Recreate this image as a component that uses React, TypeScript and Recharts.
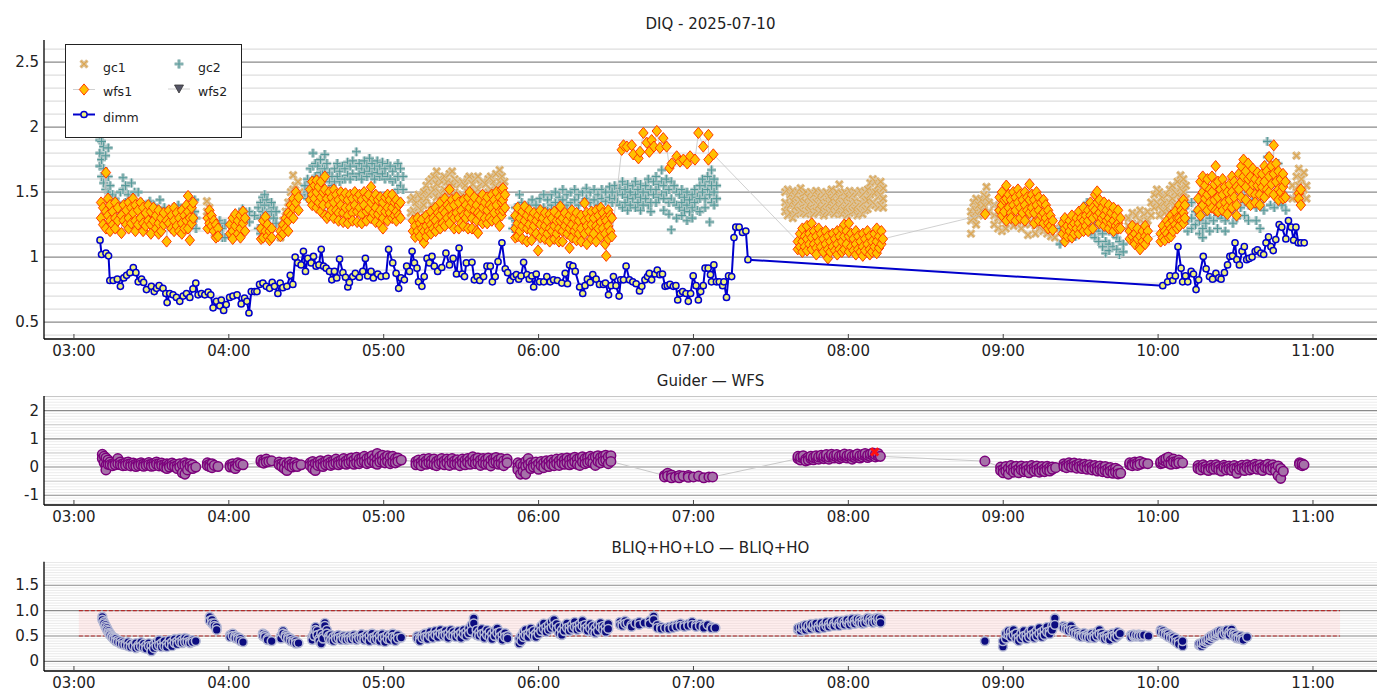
import React from 'react';
import { ComposedChart, Scatter, XAxis, YAxis, ReferenceLine, ReferenceArea } from 'recharts';

const FONT = '"DejaVu Sans", Verdana, sans-serif';

// ---------- axes ----------
const xTicks = [0, 60, 120, 180, 240, 300, 360, 420, 480]; // minutes after 03:00
const xDomain = [-11.6, 504.8];
const topYTicks = [0.5, 1, 1.5, 2, 2.5];
const midYTicks = [-1, 0, 1, 2];
const botYTicks = [0, 0.5, 1.0, 1.5];
const botYLabels = ['0', '0.5', '1.0', '1.5'];

// ---------- DIMM (minute, value) ----------
const dimmData = [
  [10.1,1.13],[10.7,1.02],[12.4,1.03],[13.4,1.01],[13.9,0.82],[15.2,0.82],[16.8,0.83],[18.0,0.775],[19.3,0.84],[20.4,0.86],
  [21.7,0.88],[23.0,0.92],[24.0,0.88],[24.9,0.81],[26.2,0.83],[27.0,0.805],[28.1,0.75],[30.0,0.775],[31.1,0.735],[32.0,0.76],
  [33.0,0.78],[34.5,0.76],[35.6,0.72],[36.1,0.65],[37.1,0.72],[38.4,0.71],[39.7,0.69],[41.0,0.66],[42.3,0.70],[43.6,0.72],
  [44.9,0.69],[46.1,0.755],[47.2,0.80],[48.1,0.71],[49.4,0.72],[50.7,0.71],[52.0,0.73],[53.0,0.71],[53.9,0.61],[55.2,0.66],
  [56.5,0.625],[57.1,0.67],[58.0,0.59],[59.0,0.635],[60.3,0.69],[61.6,0.70],[63.2,0.71],[64.8,0.64],[66.1,0.685],[67.0,0.66],
  [67.8,0.57],[68.7,0.735],[70.0,0.735],[70.9,0.735],[71.9,0.79],[73.2,0.80],[74.5,0.775],[75.8,0.76],[76.8,0.805],[77.7,0.775],
  [79.0,0.72],[79.9,0.80],[80.9,0.765],[82.5,0.775],[83.8,0.86],[84.8,0.79],[85.7,1.0],[86.7,0.955],[88.0,0.94],[88.9,1.045],
  [89.7,0.89],[90.6,0.99],[91.9,0.955],[92.8,1.005],[93.8,0.93],[94.9,0.94],[95.8,1.06],[96.7,0.93],[97.7,0.915],[99.0,0.89],
  [99.9,0.825],[100.9,0.89],[101.8,0.84],[102.9,0.985],[104.2,0.88],[105.2,0.845],[106.1,0.77],[106.7,0.805],[108.0,0.85],[109.0,0.875],
  [110.6,0.845],[111.9,0.89],[112.9,0.99],[113.8,0.855],[115.1,0.89],[116.0,0.84],[117.7,0.87],[119.0,0.85],[120.9,0.855],[121.9,1.06],
  [123.5,0.955],[124.8,0.875],[125.8,0.76],[126.7,0.84],[128.0,0.825],[128.9,0.93],[130.0,0.89],[131.0,1.045],[131.9,0.955],[132.9,0.915],
  [133.5,0.81],[134.8,0.775],[135.7,0.85],[136.8,0.99],[137.7,0.955],[138.7,1.005],[139.6,0.93],[140.9,0.89],[142.5,0.92],[144.1,1.03],
  [145.5,0.94],[146.9,0.99],[148.2,0.87],[149.2,1.07],[150.4,0.87],[151.3,0.85],[152.0,0.955],[154.2,0.96],[155.1,0.825],[156.2,0.85],
  [157.2,0.82],[158.7,0.85],[160.0,0.93],[161.3,0.93],[162.1,0.81],[163.2,0.85],[164.3,0.965],[165.8,1.11],[167.1,0.91],[168.0,0.88],
  [169.0,0.82],[170.3,0.85],[171.4,0.865],[172.3,0.83],[173.2,0.855],[174.2,0.96],[175.5,0.865],[176.4,0.83],[177.4,0.855],[178.1,0.77],
  [179.1,0.87],[180.4,0.81],[182.0,0.81],[183.2,0.85],[184.5,0.81],[185.8,0.825],[187.3,0.82],[189.0,0.80],[190.3,0.875],[191.2,0.795],
  [192.0,0.94],[193.3,0.93],[194.2,0.89],[195.9,0.77],[197.1,0.72],[198.0,0.78],[198.9,0.83],[200.0,0.805],[201.0,0.865],[202.3,0.83],
  [203.6,0.79],[205.1,0.79],[205.9,0.80],[207.1,0.71],[208.1,0.78],[209.0,0.85],[210.0,0.78],[211.2,0.70],[211.8,0.825],[212.9,0.825],
  [213.9,0.93],[215.2,0.825],[216.5,0.81],[217.8,0.795],[219.1,0.74],[220.0,0.775],[221.2,0.825],[222.2,0.85],[222.9,0.875],[223.8,0.825],
  [225.1,0.87],[226.0,0.90],[227.0,0.865],[228.0,0.87],[229.0,0.775],[229.9,0.78],[230.9,0.79],[232.2,0.775],[233.2,0.78],[233.9,0.67],
  [234.8,0.72],[235.8,0.735],[237.1,0.72],[238.0,0.66],[238.9,0.72],[239.9,0.855],[241.0,0.78],[241.9,0.67],[242.8,0.735],[243.8,0.78],
  [244.5,0.915],[245.7,0.915],[246.6,0.865],[247.0,0.81],[247.9,0.94],[248.9,0.81],[250.0,0.81],[251.3,0.78],[251.8,0.81],[252.8,0.69],
  [253.6,0.855],[254.8,0.85],[255.7,1.15],[256.4,1.23],[257.7,1.23],[259.0,1.19],[260.3,1.20],[261.1,0.98],
  [421.8,0.78],[423.7,0.81],[424.6,0.855],[425.7,0.82],[426.7,0.855],[427.7,1.08],[428.9,0.915],[429.5,0.81],[430.6,0.855],[431.5,0.81],
  [432.8,0.89],[433.7,0.87],[434.7,0.75],[435.7,0.825],[437.5,1.005],[438.6,0.91],[439.9,0.85],[441.1,0.83],[442.4,0.875],[443.5,0.84],
  [444.4,0.83],[445.7,0.88],[446.9,0.94],[447.8,1.005],[448.8,1.01],[449.8,1.11],[450.5,0.98],[451.5,0.94],[452.5,1.045],[453.4,1.08],
  [454.3,0.98],[455.3,0.99],[456.4,1.0],[457.6,1.045],[458.5,1.055],[459.8,1.03],[460.9,1.02],[461.8,1.11],[462.8,1.155],[463.7,1.08],
  [464.6,1.05],[465.6,1.135],[466.9,1.25],[467.9,1.23],[469.5,1.14],[470.5,1.28],[471.6,1.23],[472.5,1.13],[473.4,1.23],[474.3,1.11],
  [475.3,1.11],[476.6,1.11],
];

// ---------- gc1 rows: [minute, values...] ----------
const gc1Rows = [
  [51.5,1.43,1.35],[52.5,1.38,1.28],[53.5,1.30,1.22],[54.5,1.25,1.18],[55.2,1.16,1.22],
  [80,1.15,1.22],[81,1.20,1.28],[82,1.28,1.35],[83,1.35,1.42],[84,1.42,1.50],[84.9,1.63,1.52],[85.8,1.55,1.45],[86.8,1.58,1.48],[87.5,1.50],
  [130.5,1.44,1.34],[131.5,1.46,1.36],[132.5,1.42,1.33],[133.5,1.48,1.38],[134.5,1.45,1.36],[135.5,1.50,1.40],[136.5,1.55,1.45],
  [137.5,1.58,1.48],[138.5,1.60,1.50,1.40],[139.5,1.62,1.52],[140.5,1.66,1.56,1.46],[141.5,1.60,1.50],[142.5,1.58,1.48,1.40],
  [143.5,1.62,1.52],[144.5,1.58,1.48],[145.5,1.64,1.54,1.44],[146.5,1.66,1.56],[147.5,1.60,1.50,1.40],[148.5,1.58,1.48],[149.5,1.56,1.46],
  [150.5,1.58,1.48,1.40],[151.5,1.55,1.45],[152.5,1.60,1.50],[153.2,1.62,1.52,1.42],[154.5,1.56,1.46],[155.5,1.60,1.50],
  [156.5,1.62,1.52,1.42],[157.5,1.56,1.46],[158.5,1.58,1.48],[159.5,1.56,1.46,1.38],[160.5,1.60,1.50],[161.5,1.62,1.52],
  [162.5,1.58,1.48,1.40],[163.5,1.64,1.54],[164.9,1.67,1.58,1.48],[165.8,1.62,1.52],[166.8,1.58,1.48],
  [275.5,1.50,1.42,1.35],[276.5,1.52,1.40,1.32],[277.5,1.48,1.40,1.34],[278.5,1.51,1.43,1.30],[279.5,1.47,1.39,1.33],
  [280.5,1.50,1.42,1.35],[281.5,1.53,1.44,1.36],[282.5,1.49,1.41,1.34],[283.5,1.50,1.42,1.33],[284.5,1.46,1.40,1.35],
  [285.5,1.50,1.43,1.36],[286.5,1.48,1.41,1.33],[287.5,1.51,1.42,1.35],[288.5,1.47,1.40,1.34],[289.5,1.50,1.43,1.36],
  [290.5,1.48,1.40,1.32],[291.5,1.50,1.42,1.35],[292.5,1.47,1.41,1.34],[293.5,1.52,1.44,1.36],[294.5,1.48,1.40,1.33],
  [295.5,1.50,1.42,1.35],[296.5,1.56,1.46,1.38],[297.5,1.49,1.41,1.33],[298.5,1.50,1.43,1.36],[299.5,1.47,1.40,1.32],
  [300.5,1.51,1.42,1.34],[301.5,1.48,1.41,1.35],[302.5,1.50,1.43,1.36],[303.5,1.49,1.40,1.32],[304.5,1.51,1.42,1.35],
  [305.5,1.48,1.41,1.33],[306.5,1.50,1.43,1.36],[307.5,1.52,1.44,1.37],[308.5,1.57,1.48,1.40],[309.5,1.60,1.50,1.42],
  [310.5,1.58,1.50,1.40],[311.5,1.55,1.46,1.38],[312.5,1.58,1.48,1.40],[313.5,1.53,1.45,1.38],
  [347.5,1.18,1.28,1.35],[348.5,1.30,1.38,1.42],[349.5,1.25,1.35,1.45],[350.5,1.32,1.40],[351.5,1.36,1.44],[352.5,1.40,1.48],
  [353.5,1.54,1.46],[354.5,1.42,1.35],
  [356.5,1.40,1.32,1.25],[358,1.38,1.30,1.22],[359.5,1.36,1.28,1.20],[361,1.38,1.30,1.22],[362.5,1.36,1.28],[364,1.38,1.30,1.24],
  [365.5,1.35,1.27],[367,1.36,1.28,1.22],[368.5,1.33,1.25],[369.6,1.30,1.17],[371,1.34,1.26],[372.5,1.32,1.24,1.18],[374,1.30,1.22],
  [375.5,1.28,1.20],[377,1.26,1.18],[378.5,1.25,1.16],[380,1.22,1.15],
  [408.5,1.30,1.24],[410,1.34,1.26],[411.5,1.32,1.25],[413,1.36,1.28],[414.5,1.33,1.26],[416,1.35,1.28],[417.3,1.42,1.32],
  [418.5,1.48,1.38],[419.5,1.52,1.42],[420.5,1.50,1.40,1.32],[421.5,1.46,1.36],[422.5,1.42,1.34],[423.5,1.48,1.38],
  [424.5,1.52,1.42,1.34],[425.5,1.55,1.45],[426.5,1.50,1.40],[427.5,1.58,1.48,1.38],[428.7,1.63,1.53,1.43],[429.8,1.60,1.50,1.38],
  [430.8,1.55,1.45],
  [472,1.45,1.55],[473.6,1.78,1.62,1.50],[474.5,1.68,1.55,1.45],[475.5,1.60,1.50,1.42],[476.5,1.65,1.52],[477.5,1.55,1.45],
];

// ---------- gc2 rows ----------
const gc2Rows = [
  [10,1.90,1.80,1.70],[10.7,1.89,1.75,1.62],[11.5,1.85,1.68,1.57],[12.3,1.78,1.62,1.52],[13.3,1.84,1.62,1.50],[14,1.55,1.45,1.2],
  [15,1.48,1.38],[16,1.45,1.35],[17,1.42,1.32],[18,1.5,1.38],[19,1.61,1.52,1.40],[20,1.55,1.42],[21,1.48,1.38],[22.3,1.57,1.45],
  [23.5,1.50,1.40],[24.9,1.50,1.40],[26,1.42,1.35],[27.5,1.40,1.32],[29.4,1.43,1.33],[31,1.40,1.30],[33.3,1.44,1.34],[35,1.38,1.30],
  [37,1.36,1.28],[38.5,1.38,1.30],[40.4,1.40,1.32],[42,1.36,1.28],[44,1.34,1.27],[45.5,1.40,1.3],[46.8,1.44,1.35],[47.3,1.30,1.22],
  [55.5,1.25,1.18],[56.5,1.28,1.2],[57.5,1.22,1.15],[58.5,1.26,1.15],[63,1.3,1.22],[64.3,1.34,1.25],[65.3,1.37,1.28],[66.5,1.3],
  [68,1.35,1.27],[70,1.32],
  [71.4,1.22,1.38],[72.3,1.30,1.42,1.18],[73.1,1.46,1.35],[73.9,1.48,1.40,1.28],[74.8,1.44,1.34],[75.6,1.40,1.30],[76.5,1.42,1.35],
  [77.4,1.38,1.30],[78.3,1.35,1.26],
  [89.5,1.48,1.55],[90.5,1.6,1.5,1.45],[91.5,1.68,1.58],[92.6,1.80,1.70,1.6],[93.5,1.72,1.62],[94.5,1.70,1.6],[95.5,1.75,1.65],
  [96.3,1.68,1.58],[97.2,1.79,1.68],[98,1.72,1.62],[99,1.65,1.58],[100,1.62,1.55],[101,1.68,1.58],[102,1.72,1.62],[103,1.66,1.58],
  [104,1.70,1.60],[105,1.68,1.60],[106,1.73,1.63],[107,1.70,1.60],[108,1.74,1.64],[109.4,1.81,1.70,1.62],[110.5,1.72,1.64],
  [111.5,1.68,1.60],[112.5,1.74,1.65],[113.5,1.70,1.62],[114.5,1.76,1.66],[115.5,1.72,1.64],[116.5,1.68,1.60],[117.5,1.74,1.65],
  [118.5,1.70,1.62],[119.5,1.73,1.64],[120.5,1.68,1.60],[121.5,1.72,1.62],[122.5,1.70,1.60],[123.5,1.66,1.58],[124.5,1.70,1.60],
  [125.5,1.72,1.62,1.52],[126.5,1.68,1.55],[127.5,1.62,1.52],
  [170,1.30,1.22],[171,1.38,1.28],[172.6,1.48,1.36],[173.5,1.42,1.32],[174.6,1.35,1.13],[176,1.40,1.30],[177.5,1.44,1.34],
  [179,1.40,1.32],[180.5,1.45,1.35],[182,1.48,1.38],[183.5,1.44,1.36],[185,1.48,1.40],[186.5,1.50,1.42],[188,1.46,1.38],
  [189.4,1.52,1.44],[191,1.48,1.40],[192.5,1.50,1.42],[194,1.52,1.44],[195.5,1.48,1.40],[197,1.50,1.42],[198.5,1.53,1.45],
  [200,1.50,1.42],[201.5,1.52,1.44],[203,1.48,1.40],[204.5,1.52,1.45],[206,1.50,1.43],[207.5,1.54,1.46],[208.5,1.50,1.42],
  [209.5,1.55,1.45],[210.5,1.50,1.42],[211.5,1.53,1.40],[212.5,1.58,1.48,1.38],[213.5,1.52,1.42],[214.5,1.56,1.46,1.36],
  [215.5,1.50,1.40],[216.5,1.55,1.45],[217.5,1.58,1.48,1.38],[218.5,1.52,1.42],[219.5,1.56,1.46,1.36],[220.5,1.50,1.40],
  [221.5,1.55,1.45],[222.5,1.60,1.50,1.40],[223.5,1.52,1.42,1.35],[224.5,1.58,1.48],[225.5,1.62,1.52,1.42],[226.5,1.56,1.46],
  [227.7,1.67,1.58,1.48],[228.5,1.55,1.45,1.36],[229.5,1.60,1.50],[230.5,1.52,1.42,1.33],[231.4,1.58,1.45,1.21],[232.5,1.55,1.42],
  [233.5,1.50,1.40,1.30],[234.5,1.48,1.38],[235.5,1.52,1.42,1.32],[236.5,1.46,1.36],[237.5,1.50,1.40,1.28],[238.5,1.44,1.35],
  [239.5,1.48,1.38,1.30],[240.5,1.52,1.42],[241.5,1.46,1.36],[242.5,1.55,1.45,1.35],[243.5,1.60,1.50],[244.5,1.55,1.45,1.38],
  [245.5,1.62,1.52],[246.3,1.58,1.48,1.27],[247,1.67,1.55,1.42],[248,1.60,1.50,1.40],[249,1.55,1.45],
  [382,1.22,1.10],[383.5,1.28,1.18],[385,1.25,1.15],[386.5,1.30,1.20],[388,1.26,1.16],[389.5,1.32,1.22],[391,1.38,1.28],
  [392.5,1.42,1.32,1.22],[394,1.38,1.28,1.18],[395.5,1.35,1.25,1.15],[397,1.30,1.20,1.12],[398.5,1.28,1.18,1.08],
  [399.7,1.22,1.12,1.03],[401,1.20,1.10,1.05],[402.5,1.18,1.08],[404,1.15,1.06],[405,1.12,1.02],[406.5,1.10,1.04],
  [431.5,1.40,1.28,1.20],[433,1.42,1.30,1.22],[434.5,1.35,1.25],[436,1.38,1.28,1.18],[437.3,1.32,1.22,1.15],[438.5,1.36,1.26],
  [440,1.40,1.30,1.20],[441.5,1.38,1.28],[443,1.42,1.32,1.22],[444.5,1.40,1.30],[446,1.38,1.28,1.20],[447.5,1.44,1.34],
  [449,1.46,1.36,1.26],[450.5,1.50,1.40,1.30],[452,1.48,1.38],[453.5,1.52,1.42,1.32],[455,1.50,1.40,1.28],[456.5,1.54,1.44],
  [458,1.48,1.38,1.28],[459.5,1.52,1.42,1.22],[461,1.56,1.46,1.36],[462.3,1.89,1.77,1.60],[463.5,1.65,1.50,1.40],
  [465,1.60,1.48,1.38],[466.5,1.72,1.55,1.42],[468,1.62,1.50,1.40],[469.5,1.58,1.46,1.36],
];

// ---------- wfs1 rows ----------
const wfs1Rows = [
  [10.5,1.42,1.30],[11.3,1.38,1.25],[12.4,1.65,1.35,1.22],[13.2,1.45,1.32],[14,1.40,1.28,1.20],[15,1.35,1.25],[16,1.42,1.30,1.22],
  [17,1.38,1.28],[18.4,1.32,1.185],[19.3,1.40,1.28],[20.3,1.36,1.25],[21.2,1.42,1.30,1.22],[22.2,1.38,1.26],[22.9,1.45,1.34],
  [23.8,1.40,1.28,1.20],[24.8,1.36,1.25],[25.8,1.42,1.30],[26.8,1.38,1.26,1.20],[27.8,1.34,1.24],[28.8,1.40,1.28],
  [29.8,1.35,1.25,1.18],[30.8,1.38,1.28],[31.8,1.32,1.22],[32.8,1.36,1.26,1.18],[33.8,1.30,1.20],[34.8,1.34,1.25],[35.9,1.28,1.12],
  [36.8,1.36,1.26],[37.8,1.32,1.22],[38.8,1.38,1.28,1.20],[39.8,1.34,1.24],[40.8,1.30,1.20],[41.8,1.36,1.26,1.18],[42.8,1.32,1.22],
  [43.6,1.40,1.28],[44.2,1.47,1.35,1.22],[44.9,1.30,1.13],[45.6,1.38,1.26],[46.2,1.42,1.30],
  [51.8,1.30,1.22],[52.5,1.36,1.26],[53.3,1.32,1.24],[54.2,1.28,1.20],[55,1.25,1.15],[55.8,1.22,1.16],
  [60.5,1.25,1.18],[61.5,1.30,1.20,1.14],[62.5,1.33,1.24],[63.5,1.28,1.18],[64.5,1.32,1.22,1.15],[65.5,1.35,1.26],[66.3,1.30,1.20],
  [72.5,1.22,1.14],[73.3,1.28,1.15],[74.2,1.31,1.20],[75,1.25,1.16],[75.8,1.20,1.13],[76.6,1.22,1.15],
  [80,1.16,1.20],[81,1.18,1.25],[82,1.22,1.30],[83,1.28,1.34,1.20],[84,1.32,1.40],[85,1.38,1.45,1.30],[86,1.42,1.50],[87,1.36,1.46],
  [91.5,1.52,1.44],[92.3,1.58,1.48,1.40],[93.2,1.55,1.45],[94,1.59,1.50,1.38],[94.8,1.54,1.42],[95.7,1.58,1.46,1.35],[96.5,1.50,1.40],
  [97.2,1.62,1.52,1.32],[98,1.45,1.30],[98.9,1.50,1.40,1.32],[99.8,1.46,1.36],[100.7,1.52,1.42,1.30],[101.6,1.48,1.36],
  [102.5,1.44,1.34,1.28],[103.4,1.50,1.40],[104.3,1.46,1.34,1.27],[105.2,1.49,1.38],[106.1,1.44,1.32,1.26],[107,1.48,1.38],
  [107.9,1.45,1.34,1.28],[108.8,1.50,1.40],[109.7,1.46,1.35,1.27],[110.6,1.48,1.38],[111.5,1.44,1.33,1.26],[112.4,1.50,1.40],
  [113.3,1.46,1.35,1.28],[114.2,1.48,1.37],[115.1,1.54,1.42,1.30],[116,1.45,1.34],[116.9,1.48,1.38,1.27],[117.8,1.44,1.33],
  [118.7,1.46,1.36,1.25],[119.7,1.42,1.30,1.22],[120.6,1.46,1.35],[121.5,1.48,1.38,1.28],[122.4,1.44,1.34],[123.3,1.48,1.38,1.30],
  [124.2,1.42,1.32],[124.9,1.44,1.35,1.28],[125.8,1.40,1.32],[126.5,1.42,1.30],
  [131.3,1.28,1.20],[132.2,1.24,1.155],[133.1,1.30,1.20],[134,1.26,1.16],[134.8,1.29,1.22],[135.6,1.20,1.11],[136.5,1.32,1.24,1.16],
  [137.4,1.28,1.20],[138.3,1.35,1.25,1.18],[139.2,1.30,1.22],[140.1,1.38,1.28,1.20],[141,1.34,1.24],[141.9,1.42,1.32,1.22],
  [142.8,1.36,1.26],[143.7,1.45,1.34,1.24],[144.6,1.40,1.30],[145.5,1.52,1.38,1.26],[146.4,1.44,1.32],[147.3,1.40,1.30,1.22],
  [148.2,1.46,1.34],[149.1,1.42,1.30,1.22],[150,1.36,1.26],[150.9,1.44,1.32,1.24],[151.8,1.40,1.30],[152.7,1.46,1.34,1.22],
  [153.3,1.50,1.38],[154.2,1.42,1.30,1.22],[155.1,1.46,1.36],[156,1.40,1.28,1.20],[156.5,1.34,1.185],[157.4,1.44,1.32],
  [158.3,1.48,1.38,1.26],[159.2,1.42,1.30],[160.1,1.46,1.36,1.26],[161,1.40,1.30],[161.9,1.48,1.38,1.28],[162.8,1.44,1.34],
  [163.7,1.50,1.40,1.28],[164.9,1.46,1.35,1.24],[165.7,1.52,1.42,1.32],[166.2,1.53,1.44,1.36],[167,1.48,1.38],
  [171,1.32,1.22,1.15],[171.9,1.38,1.26,1.16],[172.8,1.30,1.20],[173.7,1.35,1.24,1.14],[174.6,1.39,1.28],[175.5,1.32,1.22,1.12],
  [176.4,1.36,1.25],[177.3,1.30,1.20,1.13],[178.2,1.34,1.24],[179.1,1.28,1.18],[179.8,1.32,1.05],[180.7,1.36,1.25,1.15],
  [181.6,1.30,1.20],[182.5,1.34,1.24,1.14],[183.4,1.28,1.18],[184.3,1.33,1.22,1.12],[185.2,1.30,1.20],[186.1,1.35,1.24,1.14],
  [187,1.28,1.18],[187.9,1.32,1.22,1.12],[188.4,1.39,1.28],[189.3,1.30,1.20,1.12],[190.2,1.34,1.24],[191.1,1.28,1.18],
  [192,1.32,1.22,1.07],[192.9,1.36,1.25,1.15],[193.8,1.30,1.20],[194.7,1.34,1.23,1.13],[195.6,1.28,1.18],[196.5,1.32,1.22,1.12],
  [197.8,1.415,1.28,1.18],[198.7,1.34,1.24,1.10],[199.6,1.30,1.20],[200.5,1.35,1.25,1.14],[201.4,1.30,1.18],[202.3,1.36,1.24,1.12],
  [203.2,1.32,1.22],[204.1,1.38,1.27,1.16],[204.9,1.34,1.22],[205.8,1.30,1.18,1.10],[206.2,1.28,1.01],[207,1.36,1.24,1.14],
  [207.8,1.32,1.20],[208.4,1.30,1.16],
  [212.2,1.825],[212.9,1.86],[214.2,1.85],[216.1,1.86],[216.7,1.79],[218.7,1.76],[219.3,1.81],[220.6,1.955],[221.9,1.88],[222.9,1.81],
  [223.8,1.90],[224.7,1.85],[225.8,1.97],[227,1.84],[228.3,1.915],[229.6,1.85],[230.7,1.685],[231.6,1.72],[233.5,1.775],[234.8,1.735],
  [236.1,1.75],[237.6,1.72],[238.7,1.775],[240.6,1.75],[241.9,1.955],[243.8,1.85],[245.8,1.94,1.75],[247.7,1.79],
  [280.4,1.12,1.06],[281.3,1.18,1.08],[282.2,1.22,1.12,1.04],[283.1,1.16,1.08],[284,1.24,1.14,1.05],[284.9,1.18,1.10],
  [285.8,1.26,1.15,1.06],[286.7,1.20,1.10],[287.6,1.16,1.07,1.02],[288.5,1.22,1.12],[289.4,1.18,1.08],[290.3,1.14,1.04],
  [291.2,1.20,1.10],[292.1,1.16,1.06,0.99],[293,1.12,1.04],[293.9,1.18,1.08],[294.8,1.14,1.05],[295.7,1.20,1.10,1.02],
  [296.6,1.16,1.06],[297.5,1.22,1.12,1.04],[298.4,1.25,1.16,1.06],[299.3,1.20,1.10],[300.2,1.26,1.16,1.04],[301.1,1.18,1.08],
  [302,1.14,1.05],[302.9,1.20,1.10,1.02],[303.8,1.16,1.06],[304.7,1.12,1.04],[305.6,1.18,1.08,1.01],[306.5,1.14,1.05],
  [307.4,1.20,1.10],[308.3,1.16,1.06,1.02],[309.2,1.12,1.04],[310.1,1.18,1.08],[311,1.22,1.12,1.03],[311.9,1.16,1.07],
  [312.8,1.20,1.10],[313.4,1.14],
  [353,1.33],
  [358.6,1.46,1.36],[359.5,1.50,1.40,1.32],[360.4,1.44,1.35],[361.2,1.55,1.45,1.28],[362.1,1.48,1.38],[363,1.44,1.34,1.30],
  [363.9,1.50,1.40],[364.8,1.46,1.36,1.28],[365.7,1.52,1.42],[366.6,1.48,1.38,1.30],[367.5,1.44,1.34],[368.4,1.50,1.40,1.28],
  [369.3,1.46,1.36],[370.2,1.56,1.44,1.34],[371.1,1.48,1.38],[372,1.44,1.34,1.26],[372.9,1.50,1.40],[373.8,1.46,1.36,1.28],
  [374.7,1.42,1.32],[375.6,1.44,1.34,1.26],[376.5,1.40,1.30],[377.4,1.36,1.26,1.22],[378.3,1.32,1.24],[379.2,1.28,1.21],
  [383,1.26,1.18],[383.9,1.30,1.22,1.12],[384.8,1.24,1.16],[385.7,1.28,1.20],[386.6,1.32,1.24,1.15],[387.5,1.26,1.18],
  [388.4,1.30,1.22],[389.3,1.35,1.26,1.18],[390.2,1.30,1.22],[391.1,1.38,1.28,1.20],[392,1.32,1.24],[392.9,1.36,1.28,1.20],
  [393.8,1.42,1.32],[394.7,1.38,1.30,1.22],[395.6,1.48,1.36],[396.4,1.505,1.42,1.32],[397.3,1.44,1.34,1.26],[398.2,1.38,1.30],
  [399.1,1.42,1.32,1.24],[400,1.36,1.28],[400.9,1.40,1.30,1.22],[401.8,1.34,1.26],[402.7,1.38,1.28,1.20],[403.6,1.32,1.24],
  [404.5,1.36,1.26,1.22],[405.4,1.30,1.22],
  [409,1.20,1.14],[410,1.24,1.16],[411,1.18,1.12,1.10],[412,1.22,1.14],[413,1.16,1.08,1.06],[414,1.20,1.12],[415,1.24,1.16,1.10],[416,1.20,1.14],
  [421,1.18,1.12],[421.8,1.24,1.15],[422.6,1.20,1.13],[423.4,1.28,1.18],[424.2,1.25,1.15],[425,1.32,1.22,1.16],[425.8,1.28,1.20],
  [426.6,1.35,1.25],[427.4,1.30,1.22],[428.2,1.40,1.30,1.24],[429,1.36,1.28],[429.8,1.44,1.34,1.26],[430.4,1.40,1.30],
  [435.5,1.45,1.36],[436.4,1.58,1.32],[437.3,1.62,1.50,1.40],[438.2,1.55,1.45],[439.1,1.60,1.48,1.36],[440,1.52,1.42],
  [440.9,1.62,1.50,1.38],[441.8,1.56,1.44],[442.3,1.70,1.36],[443.2,1.58,1.46,1.35],[444.1,1.52,1.40],[445,1.60,1.48,1.36],
  [445.9,1.54,1.42],[446.8,1.50,1.38,1.33],[447.7,1.56,1.44],[448.6,1.62,1.50,1.38],[449.5,1.58,1.46],[450.4,1.54,1.40,1.32],
  [451.3,1.64,1.52],[452.2,1.70,1.58,1.46],[453.1,1.75,1.62],[454,1.66,1.54,1.44],[454.9,1.72,1.60],[455.8,1.62,1.50,1.40],
  [456.7,1.68,1.56],[457.6,1.60,1.48,1.42],[458.5,1.65,1.55],[459.4,1.58,1.48,1.40],[460.3,1.64,1.54],[461.2,1.70,1.58,1.46],
  [462.1,1.66,1.52],[463,1.77,1.62,1.50],[463.9,1.70,1.56],[464.8,1.86,1.64,1.48],[465.7,1.72,1.58],[466.6,1.66,1.52,1.44],
  [467.5,1.60,1.50],[468.4,1.64,1.54,1.45],[469.3,1.58,1.46],
  [474.5,1.49,1.45],[475.3,1.52,1.40],
];
const wfs2Rows: number[][] = [];

// ---------- Guider - WFS rows ----------
const guiderRows = [
  [11,0.45,0.30],[11.7,0.38,0.15],[12.4,0.32,0.05,-0.1],[13.2,0.25,0.10],[14,0.18,0.08],[15,0.12,0.05],[16,0.15,0.08],[17,0.30,0.12],
  [18,0.18,0.08],[19,0.12,0.05],[20,0.15,0.06],[21,0.18,0.10],[22,0.12,0.04],[23,0.14,0.06],[24,0.10,0.02],[25,0.12,0.05],
  [26,0.15,0.08],[27,0.10,0.03],[28,0.12,0.06],[29,0.16,0.08],[30,0.10,0.03],[31,0.13,0.05],[32,0.18,0.10],[33,0.12,0.04],
  [34,0.14,0.06],[35,0.08,0.0],[36,0.12,0.02,-0.05],[37,0.10,0.0],[38,0.14,0.05],[39,0.10,0.02],[40,0.05,-0.05],[41,0.12,0.0],
  [42,0.08,-0.2],[43,0.15,0.05,-0.25],[44,0.10,-0.1],[45,0.12,0.02],[46,0.08,-0.05],[47.2,0.0],
  [51.7,0.15,0.05],[52.6,0.10,0.02],[53.5,0.12,-0.02],[54.4,0.06],[55.8,0.02],
  [60.5,0.08,0.0],[61.5,0.12,0.02],[62.5,0.05,-0.05],[63.5,0.15,0.05],[64.5,0.12],[65.5,0.08],
  [72.5,0.18,0.25],[73.5,0.22,0.14],[74.5,0.28,0.18],[75.5,0.20],[76.6,0.22],
  [79.5,0.18,0.08],[80.5,0.12,0.02],[81.5,0.15,-0.05],[82.5,0.10,-0.12],[83.5,0.18,0.05],[84.5,0.12,0.0],[85.5,0.15,0.04],[86.5,0.10,0.02],[88,0.08],
  [91.5,0.15,0.05],[92.5,0.20,0.08,-0.05],[93.5,0.12,-0.12],[94.5,0.18,0.06],[95.5,0.22,0.10],[96.5,0.15,0.02],[97.5,0.20,0.08],
  [98.5,0.25,0.12],[99.5,0.18,0.06],[100.5,0.22,0.10],[101.5,0.28,0.14],[102.5,0.20,0.08],[103.5,0.25,0.12],[104.5,0.30,0.15],
  [105.5,0.22,0.10],[106.5,0.28,0.14],[107.5,0.32,0.18],[108.5,0.25,0.10],[109.5,0.35,0.15],[110.5,0.28,0.12],[111.5,0.32,0.18],
  [112.5,0.38,0.20],[113.5,0.30,0.12],[114.5,0.34,0.16],[115.5,0.40,0.22],[116.5,0.32,0.14],[117.5,0.48,0.25,0.10],[118.5,0.36,0.18],
  [119.5,0.42,0.22],[120.5,0.34,0.15],[121.5,0.40,0.20],[122.5,0.35,0.12],[123.5,0.38,0.18],[124.5,0.30,0.15],[125.5,0.32,0.20],[126.8,0.25],
  [132.5,0.20,0.08],[133.5,0.25,0.12],[134.5,0.18,0.05],[135.5,0.28,0.14],[136.5,0.22,0.10],[137.5,0.30,0.15],[138.5,0.24,0.12],
  [139.5,0.28,0.08],[140.5,0.20,0.05],[141.5,0.26,0.12],[142.5,0.30,0.15],[143.5,0.22,0.08],[144.5,0.28,0.14],[145.5,0.24,0.06],
  [146.5,0.30,0.15],[147.5,0.22,0.10],[148.5,0.26,0.12],[149.5,0.20,0.05],[150.5,0.28,0.14],[151.5,0.24,0.08],[152.5,0.30,0.16],
  [153.5,0.25,0.10],[154.5,0.36,0.18],[155.5,0.28,0.12],[156.5,0.32,0.15],[157.5,0.25,0.06],[158.5,0.30,0.14],[159.5,0.26,0.10],
  [160.5,0.32,0.12],[161.5,0.24,0.04],[162.5,0.30,0.15],[163.5,0.34,0.18],[164.5,0.26,0.10],[165.5,0.30,0.12],[166.5,0.22,0.05],[167.8,0.28,0.15],
  [172,0.15,0.0,-0.10],[173,0.10,-0.25],[174,0.05,-0.15],[175,0.20,0.02,-0.25],[176,0.30,0.08],[177,0.15,-0.05],[178,0.10,0.0],
  [179,0.18,0.04],[180,0.12,-0.08],[181,0.20,0.05],[182,0.15,-0.02],[183,0.22,0.08],[184,0.18,0.02],[185,0.25,0.10],[186,0.20,0.05],
  [187,0.28,0.12],[188,0.22,0.06],[189,0.30,0.14],[190,0.25,0.10],[191,0.32,0.15],[192,0.26,0.08],[193,0.30,0.12],[194,0.35,0.18],
  [195,0.28,0.10],[196,0.32,0.06],[197,0.36,0.18],[198,0.30,0.12],[199,0.34,0.16],[200,0.38,0.20],[201,0.32,0.14],[202,0.36,0.06],
  [203,0.40,0.20],[204,0.34,0.15],[205,0.38,0.22],[206,0.42,0.25],[207,0.36,0.12],[208,0.40,0.20],
  [228.8,-0.30,-0.35],[230,-0.22,-0.32],[231.5,-0.28,-0.38],[233,-0.35],[234.5,-0.30,-0.38],[236,-0.32],[238,-0.30,-0.36],
  [240,-0.35],[242,-0.32],[244,-0.38],[246,-0.35],[247.4,-0.35],
  [280.5,0.30,0.38],[281.5,0.25,0.35],[282.5,0.32,0.40],[283.5,0.28,0.22],[284.5,0.35,0.25],[285.5,0.30,0.38],[286.5,0.26,0.34],
  [287.5,0.32,0.40],[288.5,0.28,0.36],[289.5,0.35,0.42],[290.5,0.30,0.38],[291.5,0.34,0.44],[292.5,0.28,0.36],[293.5,0.38,0.45],
  [294.5,0.32,0.40],[295.5,0.36,0.44],[296.5,0.30,0.38],[297.5,0.34,0.42],[298.5,0.38,0.46],[299.5,0.32,0.40],[300.5,0.36,0.44],
  [301.5,0.28,0.38],[302.5,0.34,0.42],[303.5,0.38,0.46],[304.5,0.32,0.40],[305.5,0.36,0.44],[306.5,0.40,0.48],[307.5,0.34,0.42],
  [308.5,0.38,0.46],[309.5,0.42,0.50],[310.5,0.36,0.44],[311.5,0.40,0.48],[312.4,0.38],
  [352.9,0.21],
  [359,0.0,-0.12],[360,-0.08,-0.2],[361,0.02,-0.15],[362,-0.05,-0.25],[363,0.05,-0.1],[364,-0.02,-0.18],[365,0.03,-0.12],
  [366,-0.06,-0.2],[367,0.04,-0.1],[368,-0.04,-0.16],[369,0.02,-0.12],[370,-0.06,-0.2],[371,0.05,-0.08],[372,-0.02,-0.15],
  [373,0.04,-0.1],[374,-0.04,-0.18],[375,0.02,-0.12],[376,-0.05,-0.16],[377,0.03,-0.1],[378,-0.02,-0.14],[379,0.0,-0.08],[380.3,-0.02],
  [383.5,0.12,0.02],[384.5,0.08,-0.02],[385.5,0.15,0.05],[386.5,0.10,0.0],[387.5,0.14,0.04],[388.5,0.08,-0.04],[389.5,0.12,0.02],
  [390.5,0.06,-0.05],[391.5,0.10,0.0],[392.5,0.05,-0.08],[393.5,0.08,-0.04],[394.5,0.02,-0.10],[395.5,0.05,-0.06],[396.5,0.0,-0.14],
  [397.5,0.04,-0.10],[398.5,-0.02,-0.16],[399.5,0.02,-0.12],[400.5,-0.06,-0.20],[401.5,-0.02,-0.14],[402.5,-0.08,-0.22],
  [403.5,-0.04,-0.18],[404.5,-0.10,-0.24],[405.5,-0.22],
  [409,0.08,0.15],[410,0.12,0.05],[411,0.18,0.10],[412,0.15,0.06],[413,0.20,0.10],[414.5,0.14],[416,0.12],
  [421,0.12,0.18],[422,0.15,0.25],[423,0.20,0.30],[424,0.14,0.35],[425,0.22,0.10],[426,0.28,0.18],[427,0.20,0.12],[428,0.25,0.15],[429.5,0.15],
  [435.5,0.05,-0.05],[436.5,0.0,-0.10],[437.5,0.08,-0.02],[438.5,0.02,-0.08],[439.5,-0.04,-0.12],[440.5,0.06,-0.04],[441.5,0.0,-0.08],
  [442.5,0.08,-0.02],[443.5,0.02,-0.10],[444.5,-0.04,-0.14],[445.5,0.06,-0.02],[446.5,0.0,-0.10],[447.5,0.04,-0.06],[448.5,-0.02,-0.12],
  [449.5,0.05,-0.05],[450.5,-0.04,-0.22],[451.5,0.02,-0.08],[452.5,0.06,-0.04],[453.5,0.0,-0.12],[454.5,0.08,-0.02],[455.5,0.02,-0.10],
  [456.5,0.05,-0.06],[457.5,0.10,0.0],[458.5,0.04,-0.08],[459.5,0.08,-0.04],[460.5,0.0,-0.12],[461.5,0.06,-0.02],[462.5,0.10,-0.06],
  [463.5,0.02,-0.10],[464.5,0.08,-0.04],[465.5,0.0,-0.14],[466.5,0.04,-0.30],[467.5,-0.05,-0.40],[468.5,-0.15],
  [474.8,0.15,0.10],[475.8,0.05,0.12],[476.5,0.08],
];
const guiderFlag = [[310.2, 0.54]];

// ---------- BLIQ+HO+LO - BLIQ+HO rows ----------
const bliqRows = [
  [11,0.88,0.82],[11.6,0.78,0.75],[12.2,0.72,0.68],[12.8,0.66,0.62],[13.4,0.60,0.56],[14,0.55,0.52],[14.7,0.50,0.48],[15.4,0.47,0.44],
  [16.2,0.45,0.40],[17,0.42,0.38],[18,0.40,0.35],[19,0.38,0.33],[20,0.36,0.32],[21,0.38,0.30],[22,0.35,0.28],[23,0.33,0.30],
  [24,0.36,0.26],[25,0.32,0.28],[26,0.38,0.30],[27,0.35,0.27],[28,0.32,0.25],[29,0.36,0.30],[30,0.30,0.20],[31,0.34,0.26],
  [32,0.38,0.30],[33,0.42,0.32],[34,0.36,0.28],[35,0.40,0.30],[36,0.35,0.28],[37,0.42,0.34],[38,0.38,0.30],[39,0.44,0.36],
  [40,0.40,0.34],[41,0.45,0.38],[42,0.42,0.36],[43,0.46,0.38],[44,0.44,0.38],[45,0.40,0.36],[46,0.42,0.38],[47.2,0.40],
  [52.6,0.88,0.80],[53.5,0.82,0.75],[54.4,0.75,0.70],[55.3,0.68,0.62],
  [60.5,0.52,0.48],[61.5,0.55,0.50],[62.5,0.50,0.46],[63.5,0.48,0.44],[64.5,0.45,0.40],[65.5,0.38],
  [73.2,0.55,0.50],[74,0.52,0.48],[75,0.45,0.42],[76.6,0.40],
  [80.2,0.50,0.45],[81,0.60,0.55],[82,0.52,0.48],[83,0.48,0.44],[84,0.45,0.40],[85,0.42,0.38],[86,0.40,0.35],[87,0.36],
  [92.3,0.48,0.42],[93,0.55,0.50],[93.6,0.68,0.62],[94.3,0.60,0.52],[95,0.45,0.40],[95.8,0.55,0.35],[96.5,0.50,0.45],[97.2,0.76,0.70],
  [98,0.62,0.55],[98.8,0.50,0.45],[99.6,0.52,0.42],[100.5,0.48,0.40],[101.5,0.50,0.44],[102.5,0.52,0.46],[103.5,0.48,0.42],
  [104.5,0.50,0.45],[105.5,0.46,0.42],[106.5,0.50,0.44],[107.5,0.48,0.43],[108.5,0.52,0.46],[109.5,0.48,0.42],[110.5,0.50,0.45],
  [111.5,0.54,0.46],[112.5,0.48,0.42],[113.5,0.52,0.45],[114.5,0.50,0.40],[115.5,0.55,0.46],[116.5,0.48,0.42],[117.5,0.52,0.44],
  [118.5,0.50,0.40],[119.5,0.54,0.46],[120.5,0.48,0.38],[121.5,0.52,0.44],[122.5,0.50,0.42],[123.5,0.55,0.48],[124.5,0.48,0.40],
  [125.5,0.52,0.45],[126.8,0.47],
  [133,0.50,0.45],[134,0.45,0.40],[135,0.52,0.46],[136,0.55,0.48],[137,0.50,0.44],[138,0.58,0.50],[139,0.52,0.46],[140,0.60,0.52],
  [141,0.55,0.48],[142,0.62,0.54],[143,0.56,0.50],[144,0.60,0.52],[145,0.55,0.46],[146,0.62,0.52],[147,0.58,0.50],[148,0.54,0.48],
  [149,0.60,0.52],[150,0.56,0.46],[151,0.62,0.54],[152,0.58,0.50],[153,0.65,0.55],[154,0.72,0.60],[154.9,0.85,0.75],[156,0.62,0.52],
  [157,0.58,0.50],[158,0.64,0.54],[159,0.56,0.46],[160,0.62,0.52],[161,0.58,0.48],[162,0.54,0.44],[163,0.60,0.50],[164,0.65,0.56],
  [165,0.58,0.48],[166,0.52,0.42],[167,0.56,0.48],[168,0.50,0.45],
  [172.5,0.35,0.45],[173.3,0.50,0.40],[174.2,0.58,0.48],[175,0.62,0.52],[176,0.55,0.48],[177,0.65,0.56],[178,0.60,0.50],
  [179,0.55,0.48],[180,0.62,0.54],[181,0.70,0.60],[182,0.75,0.64],[183,0.68,0.58],[184,0.72,0.62],[185,0.78,0.66],[186,0.82,0.70],
  [187,0.74,0.64],[188,0.68,0.55],[189,0.62,0.52],[190,0.70,0.60],[191,0.75,0.66],[192,0.68,0.60],[193,0.72,0.64],[194,0.78,0.68],
  [195,0.70,0.62],[196,0.74,0.65],[197,0.80,0.70],[198,0.72,0.64],[199,0.68,0.60],[200,0.74,0.65],[201,0.70,0.58],[202,0.66,0.56],
  [203,0.72,0.60],[204,0.76,0.68],[205,0.70,0.62],[206,0.68,0.58],[207,0.74,0.64],
  [211.5,0.78,0.72],[212.5,0.75,0.70],[213.5,0.80,0.74],[214.5,0.76],[216,0.72,0.68],[217.5,0.75],[219,0.78,0.72],[221,0.76],
  [223,0.80,0.74],[224.6,0.89,0.82],[226,0.72,0.66],[227.5,0.68,0.64],[229,0.66],[230.5,0.68,0.64],[232,0.70,0.66],[233.5,0.72,0.68],
  [235,0.75,0.70],[236.5,0.72,0.68],[238,0.74,0.70],[239.5,0.78,0.72],[241,0.72,0.68],[242.5,0.74,0.70],[244,0.70,0.66],
  [245.5,0.72],[247,0.68,0.65],[248.5,0.66],
  [280.5,0.62,0.66],[281.5,0.60,0.68],[282.5,0.64,0.70],[283.5,0.62,0.72],[284.5,0.66,0.70],[285.5,0.64,0.74],[286.5,0.68,0.72],
  [287.5,0.66,0.75],[288.5,0.70,0.64],[289.5,0.68,0.76],[290.5,0.72,0.66],[291.5,0.70,0.78],[292.5,0.74,0.68],[293.5,0.72,0.78],
  [294.5,0.75,0.70],[295.5,0.74,0.80],[296.5,0.76,0.70],[297.5,0.74,0.80],[298.5,0.78,0.72],[299.5,0.76,0.82],[300.5,0.78,0.72],
  [301.5,0.76,0.84],[302.5,0.80,0.74],[303.5,0.78,0.84],[304.5,0.82,0.76],[305.5,0.80,0.74],[306.5,0.82,0.76],[307.5,0.80,0.86],
  [308.5,0.84,0.78],[309.5,0.82,0.76],[310.5,0.85,0.78],[311.5,0.80,0.86],[312.5,0.84,0.76],
  [352.9,0.40],
  [359.9,0.29,0.40],[361,0.45,0.55],[362,0.52,0.60],[363,0.58,0.48],[364,0.62,0.52],[365,0.55,0.45],[366,0.48,0.40],[367,0.55,0.45],
  [368,0.60,0.50],[369,0.52,0.44],[370,0.58,0.48],[371,0.62,0.52],[372,0.55,0.46],[373,0.60,0.50],[374,0.66,0.55],[375,0.58,0.48],
  [376,0.62,0.52],[377,0.68,0.58],[378,0.60,0.54],[379,0.70,0.62],[380,0.85,0.72],
  [383.3,0.70,0.66],[384.3,0.68,0.64],[385.3,0.66,0.60],[386.3,0.70,0.62],[387.3,0.62,0.56],[388.3,0.58,0.54],[389.3,0.55,0.50],
  [390.3,0.52,0.48],[391.3,0.56,0.50],[392.3,0.52,0.48],[393.3,0.50,0.46],[394.3,0.55,0.48],[395.3,0.52,0.46],[396.3,0.58,0.50],
  [397.3,0.62,0.54],[398.3,0.55,0.48],[399.3,0.50,0.44],[400.3,0.52,0.46],[401.3,0.48,0.42],[402.3,0.55,0.50],[403.3,0.52,0.46],
  [404.3,0.58,0.50],[405.3,0.55],
  [409.5,0.52,0.48],[410.5,0.50,0.53],[411.5,0.49,0.52],[412.5,0.53,0.50],[413.5,0.48,0.51],[414.5,0.52],[416.3,0.50],
  [421,0.62,0.58],[422,0.60,0.55],[423,0.56,0.52],[424,0.54,0.48],[425,0.50,0.46],[426,0.48,0.42],[427,0.45,0.38],[428,0.40,0.34],[429.5,0.30,0.40],
  [435.9,0.32,0.35],[436.8,0.30,0.36],[437.7,0.34,0.40],[438.6,0.38,0.42],[439.5,0.40,0.46],[440.4,0.44,0.50],[441.3,0.48,0.52],
  [442.2,0.50,0.55],[443.1,0.54,0.58],[444,0.56,0.60],[444.9,0.58,0.52],[445.8,0.60,0.55],[446.7,0.56,0.62],[447.6,0.58,0.52],
  [448.5,0.63,0.56],[449.4,0.55,0.50],[450.3,0.52,0.46],[451.2,0.48,0.45],[452.1,0.50,0.44],[453,0.46,0.42],[454.5,0.48],
];
const bliqBand = { x1: 1.9, x2: 490.5, lo: 0.5, hi: 1.0 };

// ---------- helpers ----------
const flatRows = (rows: number[][]) => rows.flatMap(r => r.slice(1).map(v => ({ x: r[0], y: v })));
const pairs = (rows: number[][]) => rows.map(r => ({ x: r[0], y: r[1] }));
const fmtTime = (t: number) => {
  const h = 3 + Math.floor(t / 60);
  const m = Math.round(t % 60);
  return `${String(h).padStart(2, '0')}:${String(m).padStart(2, '0')}`;
};
const gridVals = (a: number, b: number, step: number, skip: number[]) => {
  const out: number[] = [];
  for (let i = Math.round(a / step); i <= Math.round(b / step); i++) {
    const v = +(i * step).toFixed(3);
    if (!skip.some(s => Math.abs(s - v) < 1e-6)) out.push(v);
  }
  return out;
};

// ---------- marker shapes ----------
const plusPath = (cx: number, cy: number, s: number) => `M${cx - s},${cy}H${cx + s}M${cx},${cy - s}V${cy + s}`;
const xPath = (cx: number, cy: number, s: number) => `M${cx - s},${cy - s}L${cx + s},${cy + s}M${cx - s},${cy + s}L${cx + s},${cy - s}`;

const Gc2Shape = (p: any) => {
  if (p.cx == null || p.cy == null) return null;
  const d = plusPath(p.cx, p.cy, 4.4);
  return (<g><path d={d} stroke="#aec7c7" strokeWidth={3.6} /><path d={d} stroke="#559a9a" strokeWidth={1.1} /></g>);
};
const Gc1Shape = (p: any) => {
  if (p.cx == null || p.cy == null) return null;
  const d = xPath(p.cx, p.cy, 3.4);
  return (<g><path d={d} stroke="#dcc39c" strokeWidth={3.6} /><path d={d} stroke="#dda650" strokeWidth={1.2} /></g>);
};
const DiamondShape = (p: any) => {
  if (p.cx == null || p.cy == null) return null;
  const { cx, cy } = p;
  return <path d={`M${cx},${cy - 5.6}L${cx + 4.7},${cy}L${cx},${cy + 5.6}L${cx - 4.7},${cy}Z`} fill="#ffc000" stroke="#ff3a00" strokeWidth={1} />;
};
const TriShape = (p: any) => {
  if (p.cx == null || p.cy == null) return null;
  const { cx, cy } = p;
  return <path d={`M${cx - 4.5},${cy - 3.5}L${cx + 4.5},${cy - 3.5}L${cx},${cy + 4.5}Z`} fill="#555566" stroke="#333" strokeWidth={0.8} />;
};
const DimmShape = (p: any) => {
  if (p.cx == null || p.cy == null) return null;
  return <circle cx={p.cx} cy={p.cy} r={3.1} fill="#eef07c" stroke="#0000cc" strokeWidth={1.5} />;
};
const GuiderShape = (p: any) => {
  if (p.cx == null || p.cy == null) return null;
  return <circle cx={p.cx} cy={p.cy} r={4.8} fill="#a572a8" stroke="#7c007c" strokeWidth={1.5} />;
};
const FlagShape = (p: any) => {
  if (p.cx == null || p.cy == null) return null;
  return <path d={xPath(p.cx, p.cy, 3.6)} stroke="#ff1010" strokeWidth={3} />;
};
const BliqShape = (p: any) => {
  if (p.cx == null || p.cy == null) return null;
  return <circle cx={p.cx} cy={p.cy} r={4.4} fill="#0c0c80" stroke="#b4b8d4" strokeWidth={1.6} />;
};

// ---------- ticks ----------
const XTick = (p: any) => (
  <g>
    <line x1={p.x} x2={p.x} y1={p.y} y2={p.y - 5} stroke="#444" strokeWidth={1} />
    <text x={p.x} y={p.y + 12} textAnchor="middle" dominantBaseline="central" fontSize={15} fill="#222" fontFamily={FONT}>
      {fmtTime(p.payload.value)}
    </text>
  </g>
);
const makeYTick = (labels?: string[], ticks?: number[]) => (p: any) => {
  const v = p.payload.value;
  let label = String(v);
  if (labels && ticks) {
    const i = ticks.findIndex(t => Math.abs(t - v) < 1e-9);
    if (i >= 0) label = labels[i];
  }
  return (
    <text x={p.x - 5} y={p.y} textAnchor="end" dominantBaseline="central" fontSize={15} fill="#222" fontFamily={FONT}>
      {label}
    </text>
  );
};

const gridLines = (vals: number[], stroke: string, width = 1) =>
  vals.map(v => <ReferenceLine key={`g${stroke}${v}`} y={v} stroke={stroke} strokeWidth={width} ifOverflow="hidden" zIndex={-10} />);

const commonX = (h: number) => (
  <XAxis type="number" dataKey="x" domain={xDomain} ticks={xTicks} allowDataOverflow interval={0} height={h}
    tickSize={0} tickMargin={0} tick={XTick} axisLine={{ stroke: '#000', strokeWidth: 1.3 }} />
);

export default function App() {
  const gc1 = flatRows(gc1Rows);
  const gc2 = flatRows(gc2Rows);
  const wfs1 = flatRows(wfs1Rows);
  const wfs2 = flatRows(wfs2Rows);
  const dimm = pairs(dimmData);
  const guider = flatRows(guiderRows);
  const flag = pairs(guiderFlag);
  const bliq = flatRows(bliqRows);

  const topMajor = [0.5, 1, 1.5, 2, 2.5];
  const topMinor = gridVals(0.4, 2.6, 0.1, topMajor);
  const midMajor = [-1, 0, 1, 2];
  const midHalf = [-0.5, 0.5, 1.5, 2.5];
  const midMinor = gridVals(-1.3, 2.4, 0.1, [...midMajor, ...midHalf]);
  const botMajor = [0, 0.5, 1.0, 1.5];
  const botMinor = gridVals(-0.15, 1.95, 0.05, botMajor);

  return (
    <div style={{ position: 'absolute', left: 0, top: 0, width: 1400, height: 700, background: '#fff', fontFamily: FONT, overflow: 'hidden' }}>
      {/* top panel */}
      <div style={{ position: 'absolute', left: 0, top: 0 }}>
        <ComposedChart width={1400} height={362} margin={{ top: 40, right: 23, bottom: 0, left: 8 }}>
          {commonX(23)}
          <YAxis type="number" dataKey="y" domain={[0.37, 2.67]} ticks={topYTicks} allowDataOverflow interval={0} width={36}
            tickSize={0} tickMargin={0} tick={makeYTick()} axisLine={{ stroke: '#000', strokeWidth: 1.3 }} />
          {gridLines(topMinor, '#d6d6d6')}
          {gridLines(topMajor, '#8a8a8a', 1.1)}
          <Scatter data={gc1} shape={Gc1Shape} isAnimationActive={false} />
          <Scatter data={gc2} shape={Gc2Shape} isAnimationActive={false} />
          <Scatter data={wfs1} shape={DiamondShape} line={{ stroke: '#c4c4c4', strokeWidth: 0.8 }} lineType="joint" isAnimationActive={false} />
          <Scatter data={wfs2} shape={TriShape} isAnimationActive={false} />
          <Scatter data={dimm} shape={DimmShape} line={{ stroke: '#0000cc', strokeWidth: 2 }} lineType="joint" isAnimationActive={false} />
        </ComposedChart>
      </div>

      {/* middle panel */}
      <div style={{ position: 'absolute', left: 0, top: 390 }}>
        <ComposedChart width={1400} height={138} margin={{ top: 6, right: 23, bottom: 0, left: 8 }}>
          {commonX(23)}
          <YAxis type="number" dataKey="y" domain={[-1.345, 2.52]} ticks={midYTicks} allowDataOverflow interval={0} width={36}
            tickSize={0} tickMargin={0} tick={makeYTick()} axisLine={{ stroke: '#000', strokeWidth: 1.3 }} />
          {gridLines(midMinor, '#ececec')}
          {gridLines(midHalf, '#c4c4c4')}
          {gridLines(midMajor, '#8a8a8a', 1.1)}
          <Scatter data={guider} shape={GuiderShape} line={{ stroke: '#c8c8c8', strokeWidth: 1 }} lineType="joint" isAnimationActive={false} />
          <Scatter data={flag} shape={FlagShape} isAnimationActive={false} />
        </ComposedChart>
      </div>

      {/* bottom panel */}
      <div style={{ position: 'absolute', left: 0, top: 555 }}>
        <ComposedChart width={1400} height={141} margin={{ top: 6.7, right: 23, bottom: 0, left: 8 }}>
          {commonX(25)}
          <YAxis type="number" dataKey="y" domain={[-0.19, 1.966]} ticks={botYTicks} allowDataOverflow interval={0} width={36}
            tickSize={0} tickMargin={0} tick={makeYTick(botYLabels, botYTicks)} axisLine={{ stroke: '#000', strokeWidth: 1.3 }} />
          {gridLines(botMinor, '#e9e9e9')}
          {gridLines(botMajor, '#8a8a8a', 1.1)}
          <ReferenceArea x1={bliqBand.x1} x2={bliqBand.x2} y1={bliqBand.lo} y2={bliqBand.hi} fill="#ffc8c8" fillOpacity={0.3} stroke="none" ifOverflow="hidden" zIndex={-5} />
          <ReferenceLine segment={[{ x: bliqBand.x1, y: bliqBand.lo }, { x: bliqBand.x2, y: bliqBand.lo }]} stroke="#b22a2a" strokeWidth={1.2} strokeDasharray="4 2" zIndex={-4} />
          <ReferenceLine segment={[{ x: bliqBand.x1, y: bliqBand.hi }, { x: bliqBand.x2, y: bliqBand.hi }]} stroke="#b22a2a" strokeWidth={1.2} strokeDasharray="4 2" zIndex={-4} />
          <Scatter data={bliq} shape={BliqShape} isAnimationActive={false} />
        </ComposedChart>
      </div>

      {/* titles + legend overlay */}
      <svg width={1400} height={700} style={{ position: 'absolute', left: 0, top: 0, pointerEvents: 'none' }}>
        <text x={710.5} y={24} textAnchor="middle" dominantBaseline="central" fontSize={15} fill="#222" fontFamily={FONT}>DIQ - 2025-07-10</text>
        <text x={710.5} y={381} textAnchor="middle" dominantBaseline="central" fontSize={15} fill="#222" fontFamily={FONT}>Guider — WFS</text>
        <text x={710.5} y={548} textAnchor="middle" dominantBaseline="central" fontSize={15} fill="#222" fontFamily={FONT}>BLIQ+HO+LO — BLIQ+HO</text>
        <g>
          <rect x={65.5} y={44.5} width={176} height={93} fill="#fff" stroke="#222" strokeWidth={1} />
          <Gc1Shape cx={84} cy={64} />
          <text x={103} y={67} dominantBaseline="central" fontSize={12.5} fill="#222" fontFamily={FONT}>gc1</text>
          <Gc2Shape cx={179} cy={64} />
          <text x={198} y={67} dominantBaseline="central" fontSize={12.5} fill="#222" fontFamily={FONT}>gc2</text>
          <line x1={73} x2={95} y1={89.5} y2={89.5} stroke="#d0d0d0" strokeWidth={1} />
          <DiamondShape cx={84} cy={89.5} />
          <text x={103} y={91.5} dominantBaseline="central" fontSize={12.5} fill="#222" fontFamily={FONT}>wfs1</text>
          <line x1={168} x2={190} y1={89} y2={89} stroke="#d0d0d0" strokeWidth={1} />
          <TriShape cx={179} cy={88.5} />
          <text x={198} y={91.5} dominantBaseline="central" fontSize={12.5} fill="#222" fontFamily={FONT}>wfs2</text>
          <line x1={73} x2={95} y1={114.5} y2={114.5} stroke="#0000cc" strokeWidth={2} />
          <DimmShape cx={84} cy={114.5} />
          <text x={103} y={117} dominantBaseline="central" fontSize={12.5} fill="#222" fontFamily={FONT}>dimm</text>
        </g>
      </svg>
    </div>
  );
}
